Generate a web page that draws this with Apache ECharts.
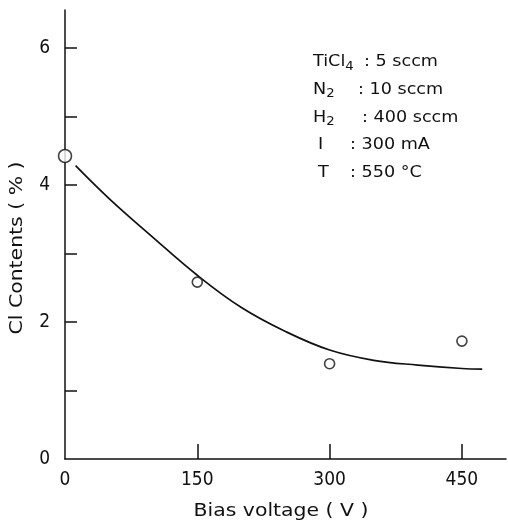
<!DOCTYPE html>
<html><head><meta charset="utf-8">
<script src="https://cdn.jsdelivr.net/npm/echarts@6/dist/echarts.min.js"></script>
<style>html,body{margin:0;padding:0;background:#fff}#c{width:508px;height:523px}</style>
</head><body><div id="c"></div>
<script>
// measured data points: [bias voltage (V), Cl content (%)]
const pointX = [0, 150, 300, 450];
const pointY = [4.42, 2.58, 1.39, 1.72];
// fitted trend curve drawn in the figure
const curveX = [12, 50, 100, 150, 200, 250, 300, 350, 400, 450, 473];
const curveY = [4.28, 3.80, 3.23, 2.68, 2.21, 1.86, 1.59, 1.44, 1.37, 1.32, 1.31];
const xTickLabels = [0, 150, 300, 450];
const yTickLabels = [0, 2, 4, 6];
const yMinorTicks = [1, 3, 5];
// conditions: [name, subscript, value]
const noteNames = ['TiCl', 'N', 'H', 'I', 'T'];
const noteSubs = ['4', '2', '2', '', ''];
const noteValues = ['5 sccm', '10 sccm', '400 sccm', '300 mA', '550 °C'];
const xName = 'Bias voltage ( V )';
const yName = 'Cl Contents ( % )';

const FONT = 'DejaVu Sans';
const TICKFONT = '"DejaVu Sans Condensed", "DejaVu Sans"';
const INK = '#111';
const colonX = [364, 358, 362, 350, 350];
const chart = echarts.init(document.getElementById('c'));
const noteGraphics = [];
noteNames.forEach((n, i) => {
  const y = 62 + i * 27.7;
  const indent = noteSubs[i] ? 313 : 318;
  noteGraphics.push({
    type: 'text', x: indent, y: y, scaleX: 1.1,
    style: {
      text: '{a|' + n + '}' + (noteSubs[i] ? '{s|' + noteSubs[i] + '}' : ''),
      verticalAlign: 'middle',
      rich: {
        a: { fontFamily: FONT, fontSize: 16, fill: INK },
        s: { fontFamily: FONT, fontSize: 12, fill: INK, padding: [9, 0, 0, 0] }
      }
    }
  });
  noteGraphics.push({
    type: 'text', x: colonX[i], y: y, scaleX: 1.1,
    style: { text: ': ' + noteValues[i], fontFamily: FONT, fontSize: 16, fill: INK, verticalAlign: 'middle' }
  });
});
chart.setOption({
  animation: false,
  backgroundColor: '#fff',
  grid: { left: 65, right: 2, top: 10, bottom: 64, containLabel: false },
  xAxis: {
    type: 'value', min: 0, max: 500,
    axisLine: { show: true, onZero: false, lineStyle: { color: INK, width: 1.5 } },
    axisTick: { show: true, inside: true, length: 15, customValues: xTickLabels.slice(1), lineStyle: { color: INK, width: 1.5 } },
    axisLabel: { customValues: xTickLabels, color: INK, fontFamily: TICKFONT, fontSize: 19, margin: 12 },
    splitLine: { show: false }
  },
  yAxis: {
    type: 'value', min: 0, max: 6.55,
    axisLine: { show: true, onZero: false, lineStyle: { color: INK, width: 1.5 } },
    axisTick: { show: true, inside: true, length: 12, customValues: yTickLabels.slice(1).concat(yMinorTicks), lineStyle: { color: INK, width: 1.5 } },
    axisLabel: { customValues: yTickLabels, color: INK, fontFamily: TICKFONT, fontSize: 19, margin: 15 },
    splitLine: { show: false }
  },
  graphic: [
    { type: 'text', x: 281, y: 512, scaleX: 1.2,
      style: { text: xName, fontFamily: FONT, fontSize: 17, fill: INK, align: 'center', verticalAlign: 'middle' } },
    { type: 'text', x: 18, y: 248, rotation: Math.PI / 2, scaleX: 1.2,
      style: { text: yName, fontFamily: FONT, fontSize: 17, fill: INK, align: 'center', verticalAlign: 'middle' } }
  ].concat(noteGraphics),
  series: [
    { type: 'line', data: curveX.map((x, i) => [x, curveY[i]]), smooth: 0.4, showSymbol: false,
      lineStyle: { color: INK, width: 1.7 }, z: 2 },
    { type: 'scatter', data: pointX.map((x, i) => [x, pointY[i]]),
      symbol: 'circle', symbolSize: (v, p) => p.dataIndex === 0 ? 13 : 10,
      itemStyle: { color: '#fff', borderColor: INK, borderWidth: 1.6 }, z: 5 }
  ]
});
</script></body></html>
